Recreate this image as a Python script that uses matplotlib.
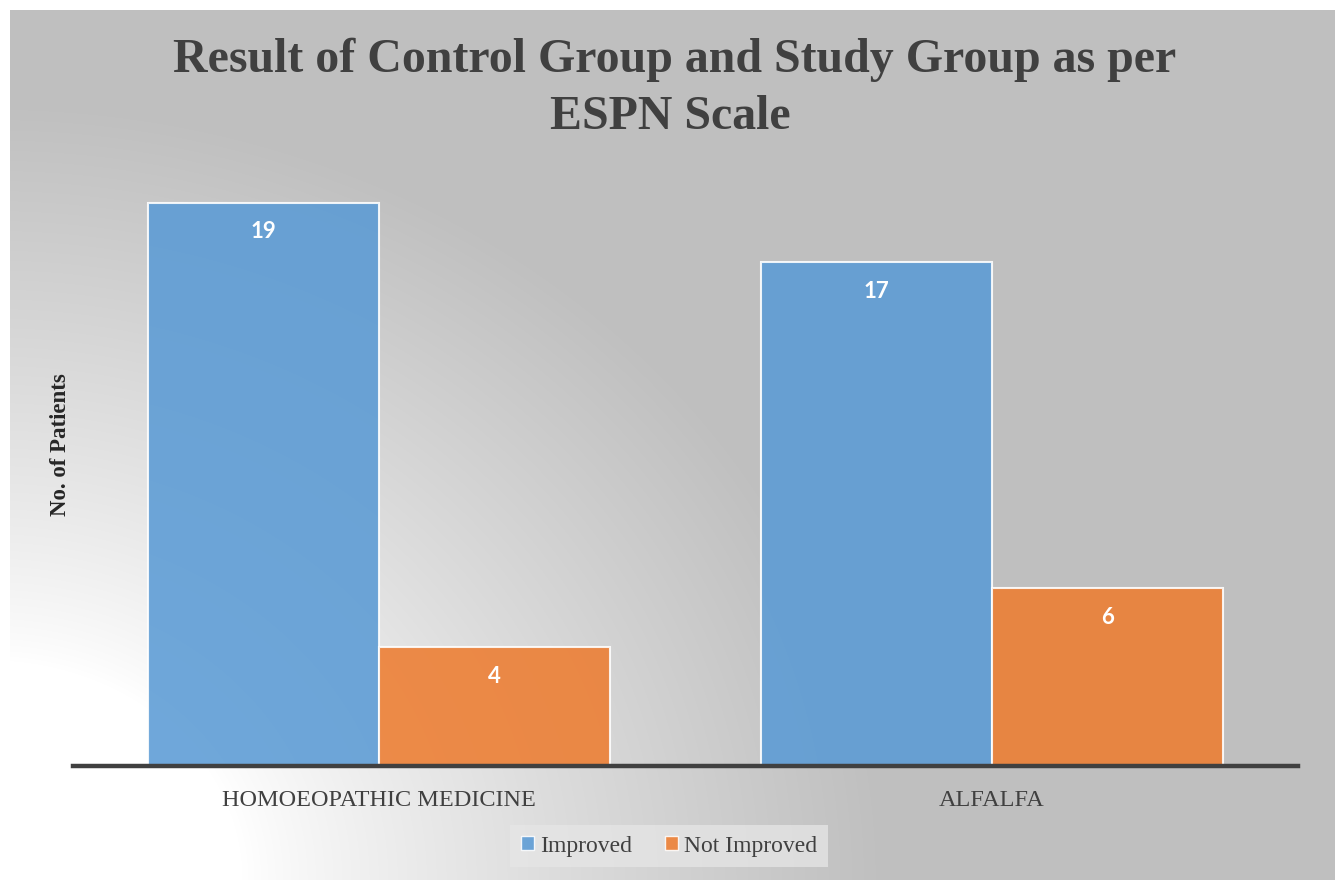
import numpy as np
import matplotlib
matplotlib.use("Agg")
import matplotlib.pyplot as plt
from matplotlib.patches import Patch

categories = ["HOMOEOPATHIC MEDICINE", "ALFALFA"]
series_names = ["Improved", "Not Improved"]
improved = [19, 17]
not_improved = [4, 6]
colors = ["#5B9BD5", "#ED7D31"]

W, H = 1335, 880
fig = plt.figure(figsize=(W / 100, H / 100), dpi=100)
fig.patch.set_facecolor("white")

# background radial gradient (chart area)
bg = fig.add_axes([10 / W, 0, 1 - 10 / W, 1 - 10 / H], zorder=0)
xs = np.arange(10, W)
ys = np.arange(10, H)
X, Y = np.meshgrid(xs, ys)
cx, cy = -10, 880
r = np.sqrt(((X - cx) / 1.15) ** 2 + (Y - cy) ** 2)
t = np.clip((r - 220) / 560, 0, 1) ** 0.85
val = (255 - (255 - 191) * t) / 255.0
img = np.dstack([val, val, val])
bg.imshow(img, aspect="auto", extent=[0, 1, 0, 1], origin="upper")
bg.set_axis_off()

# main axes: x from 73..1298, y 0 at 766, 20 at 173
ax = fig.add_axes([73 / W, (H - 766) / H, (1298 - 73) / W, (766 - 173) / H], zorder=1)
ax.set_facecolor("none")
x = np.arange(len(categories))
bw = 0.377
b1 = ax.bar(x - bw / 2, improved, bw, color=colors[0], alpha=0.88,
            edgecolor="white", linewidth=1.5, label=series_names[0])
b2 = ax.bar(x + bw / 2, not_improved, bw, color=colors[1], alpha=0.88,
            edgecolor="white", linewidth=1.5, label=series_names[1])
ax.set_xlim(-0.5, 1.5)
ax.set_ylim(0, 20)
for bars, vals in ((b1, improved), (b2, not_improved)):
    for rect, v in zip(bars, vals):
        ax.text(rect.get_x() + rect.get_width() / 2, v - 0.98, str(v),
                ha="center", va="center", color="white", fontsize=16,
                fontweight="bold", family="Lato")

for s in ["top", "right", "left"]:
    ax.spines[s].set_visible(False)
ax.spines["bottom"].set_color("#404040")
ax.spines["bottom"].set_linewidth(3.2)
ax.set_yticks([])
ax.set_xticks(x)
ax.set_xticklabels(categories, family="Liberation Serif", fontsize=17.5, color="#404040")
ax.tick_params(axis="x", length=0, pad=17)

fig.text(60 / W, 1 - 445 / H, "No. of Patients", rotation=90, ha="center", va="center",
         family="Liberation Serif", fontweight="bold", fontsize=16.5, color="#262626")

fig.text(675 / W, 1 - 60 / H, "Result of Control Group and Study Group as per",
         ha="center", va="center", family="Liberation Serif", fontweight="bold",
         fontsize=34.5, color="#404040")
fig.text(670 / W, 1 - 117 / H, "ESPN Scale",
         ha="center", va="center", family="Liberation Serif", fontweight="bold",
         fontsize=34.5, color="#404040")

handles = [Patch(facecolor=colors[0], edgecolor="white", alpha=0.88),
           Patch(facecolor=colors[1], edgecolor="white", alpha=0.88)]
leg = fig.legend(handles, series_names, loc="center", bbox_to_anchor=(669 / W, 1 - 846 / H),
                 ncol=2, frameon=True, prop={"family": "Liberation Serif", "size": 17},
                 handlelength=0.55, handleheight=0.55, handletextpad=0.25, columnspacing=1.4,
                 fancybox=False, borderpad=0.45, borderaxespad=0)
leg.get_frame().set_facecolor("#e6e6e6")
leg.get_frame().set_alpha(0.75)
leg.get_frame().set_edgecolor("none")
for t_ in leg.get_texts():
    t_.set_color("#404040")

fig.savefig("out.png", dpi=100)
